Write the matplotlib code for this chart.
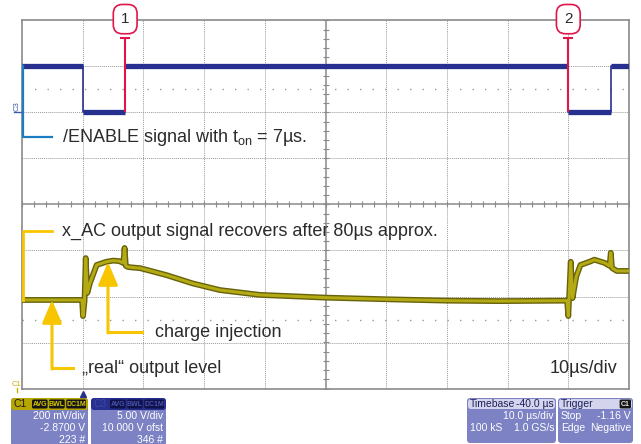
import numpy as np
import matplotlib
matplotlib.use("Agg")
from matplotlib import pyplot as plt, patches

plt.rcParams['font.family'] = ['Liberation Sans', 'DejaVu Sans']

# channel settings (as shown on the scope)
c1_vdiv, c1_ofs = 0.2, -2.87     # x_AC output, V/div and offset
c3_vdiv, c3_ofs = 5.0, 10.0      # /ENABLE, V/div and offset

# /ENABLE signal (C3), time in us, level in V
t_en = [-10, 0, 0, 7, 7, 79.9, 79.9, 87.0, 87.0, 90]
v_en = [5, 5, 0, 0, 5, 5, 0, 0, 5, 5]

# x_AC output signal (C1), time in us, level in V
t_ac = [-10, -0.1, 0.05, 0.3, 0.5, 0.75, 1.2, 2.3, 3.9, 5.0, 6.0, 6.7, 6.9, 7.1,
        7.5, 9.5, 13.8, 18.1, 22.6, 29.2, 40.1, 50.0, 60.0, 68.7, 79.8, 80.0,
        80.4, 80.7, 81.3, 82.0, 83.5, 84.3, 86.0, 86.8, 87.0, 87.2, 88.0, 90]
v_ac = [2.455, 2.455, 2.385, 2.45, 2.637, 2.485, 2.529, 2.607, 2.621, 2.626, 2.624,
        2.616, 2.681, 2.603, 2.598, 2.593, 2.563, 2.527, 2.498, 2.477, 2.465, 2.458,
        2.452, 2.450, 2.452, 2.385, 2.621, 2.463, 2.556, 2.607, 2.621, 2.630, 2.616,
        2.603, 2.660, 2.594, 2.581, 2.581]

cursor_t = [7, 80]
cursor_lbl = ['1', '2']

navy = '#28308f'
red = '#e0154a'
olive_dark = '#67620c'
olive = '#b4aa14'
gold = '#f7c600'
blue = '#1b7ec2'
txt = '#2b2b2b'
lav = '#7c82c4'

fig = plt.figure(figsize=(6.41, 4.44), dpi=100)
ax = fig.add_axes([22 / 641, 1 - 388.5 / 444, 607 / 641, 368 / 444])
ax.set_xlim(-10, 90)
ax.set_ylim(-4, 4)
ax.set_xticks([])
ax.set_yticks([])
for s in ax.spines.values():
    s.set_color('#8a8a8a')
    s.set_linewidth(1.2)

# graticule
for x in np.arange(0, 90, 10):
    if x != 40:
        ax.axvline(x, color='#9a9a9a', lw=0.7, ls=(0, (1, 1)), zorder=0)
for y in np.arange(-3, 4, 1):
    if y != 0:
        ax.axhline(y, color='#9a9a9a', lw=0.7, ls=(0, (1, 1)), zorder=0)
ax.axhline(0, color='#8a8a8a', lw=1.1, zorder=0)
ax.axvline(40, color='#8a8a8a', lw=1.1, zorder=0)
for y in [2.5, -2.5]:
    ax.axhline(y, color='#9a9a9a', lw=1.0, ls=(0, (1, 8)), zorder=0)
mx = np.arange(-10, 90.1, 2)
ax.plot(mx, np.zeros_like(mx), ls='none', marker='|', ms=5, color='#8a8a8a', mew=0.8)
my = np.arange(-4, 4.01, 0.2)
ax.plot(np.full_like(my, 40), my, ls='none', marker='_', ms=5, color='#8a8a8a', mew=0.8)

# C3 trace
en_pos = (np.array(v_en) + c3_ofs) / c3_vdiv
ax.plot(t_en, en_pos, color=navy, lw=1.2, zorder=3)
for i in range(len(t_en) - 1):
    if en_pos[i] == en_pos[i + 1]:
        ax.plot(t_en[i:i + 2], en_pos[i:i + 2], color=navy, lw=3.8,
                solid_capstyle='butt', zorder=3)

# C1 trace
ac_pos = (np.array(v_ac) + c1_ofs) / c1_vdiv
ax.plot(t_ac, ac_pos, color=olive_dark, lw=4.2, zorder=3)
ax.plot(t_ac, ac_pos, color=olive, lw=2.2, zorder=4)

# cursors
ax.vlines(cursor_t, 2.0, 3.61, color=red, lw=1.5, zorder=5)
ax.plot(cursor_t, [3.61, 3.61], ls='none', marker='_', ms=7, mew=1.5, color=red, zorder=5)
for t, l in zip(cursor_t, cursor_lbl):
    ax.text(t, 4.03, l, ha='center', va='center', fontsize=11, color=txt, zorder=10,
            clip_on=False,
            bbox=dict(boxstyle='round,pad=0.5,rounding_size=0.6', fc='white', ec=red, lw=1.2))

# overlay in pixel coordinates for annotations and info boxes
ov = fig.add_axes([0, 0, 1, 1], facecolor='none')
ov.set_xlim(0, 641)
ov.set_ylim(444, 0)
ov.axis('off')

tfs = 13
ov.plot([23, 23, 52], [66, 137, 137], color=blue, lw=1.6)
ov.text(62, 137, '/ENABLE signal with t$_\\mathregular{on}$ = 7µs.', fontsize=tfs,
        color=txt, va='center')
ov.plot([23, 23, 52], [300, 231, 231], color=gold, lw=2)
ov.text(62, 231, 'x_AC output signal recovers after 80µs approx.', fontsize=tfs,
        color=txt, va='center')

arr = dict(arrowstyle='-|>,head_length=1.4,head_width=0.6', lw=2.2, color=gold,
           shrinkA=0, shrinkB=0)
ov.plot([142, 108], [332, 332], color=gold, lw=2.2)
ov.annotate('', xy=(108, 262), xytext=(108, 333), arrowprops=arr)
ov.text(155, 332, 'charge injection', fontsize=tfs, color=txt, va='center')
ov.plot([73, 52], [368, 368], color=gold, lw=2.2)
ov.annotate('', xy=(52, 300), xytext=(52, 369), arrowprops=arr)
ov.text(82, 368, '\u201ereal\u201c output level', fontsize=tfs, color=txt, va='center')
ov.text(617, 368, '10µs/div', fontsize=tfs, color=txt, va='center', ha='right')

# channel markers
ov.text(17, 106, 'C3', rotation=90, fontsize=5.5, color='#3a5bb0', ha='center', va='center')
ov.plot([14, 21], [112, 112], color='#3a5bb0', lw=1)
ov.text(17, 384, 'C1', fontsize=5.5, color='#c8b000', ha='center', va='center')
ov.plot([17, 17], [388, 392], color='#c8b000', lw=1)
ov.plot([83], [394], marker='^', ms=5, color=navy)


def box(x0, x1, y0, y1, fc):
    ov.add_patch(patches.FancyBboxPatch((x0, y0), x1 - x0, y1 - y0,
                                        boxstyle='round,pad=0,rounding_size=3',
                                        fc=fc, ec='none', clip_on=False))


def badges(x_right, y, labels, fc, tc):
    x = x_right
    for lab in reversed(labels):
        w = 4.2 * len(lab) + 3
        ov.add_patch(patches.FancyBboxPatch((x - w, y - 4.5), w, 9,
                                            boxstyle='round,pad=0,rounding_size=1.5',
                                            fc=fc, ec='none'))
        ov.text(x - w / 2, y, lab, fontsize=5, color=tc, ha='center', va='center',
                fontweight='bold')
        x -= w + 1.5


fs = 7.5
# C1 box
box(11, 88, 398, 446, lav)
box(11, 88, 398, 410, '#b8a600')
ov.text(14, 404, 'C1', fontsize=fs, color='#1a1a1a', va='center')
badges(86, 404, ['AVG', 'BWL', 'DC1M'], '#151515', '#d8c800')
for yy, s in zip([416, 428, 440], ['200 mV/div', '-2.8700 V', '223 #']):
    ov.text(85, yy, s, fontsize=fs, color='white', ha='right', va='center')

# C3 box
box(91, 166, 398, 446, lav)
box(91, 166, 398, 410, navy)
ov.text(94, 404, 'C3', fontsize=fs, color='#3e47a0', va='center')
badges(164, 404, ['AVG', 'BWL', 'DC1M'], '#10124a', '#4a52b0')
for yy, s in zip([416, 428, 440], ['5.00 V/div', '10.000 V ofst', '346 #']):
    ov.text(163, yy, s, fontsize=fs, color='white', ha='right', va='center')

# Timebase box
box(467, 556, 398, 443, lav)
box(468, 555, 399, 409, '#d4d5ec')
ov.text(470, 404, 'Timebase', fontsize=fs, color='#1c1f5a', va='center')
ov.text(554, 404, '-40.0 µs', fontsize=fs, color='#1c1f5a', va='center', ha='right')
ov.text(554, 416, '10.0 µs/div', fontsize=fs, color='white', va='center', ha='right')
ov.text(470, 428, '100 kS', fontsize=fs, color='white', va='center')
ov.text(554, 428, '1.0 GS/s', fontsize=fs, color='white', va='center', ha='right')

# Trigger box
box(558, 633, 398, 443, lav)
box(559, 632, 399, 409, '#d4d5ec')
ov.text(561, 404, 'Trigger', fontsize=fs, color='#1c1f5a', va='center')
badges(631, 404, ['C1'], '#151515', '#e8e8e8')
ov.text(561, 416, 'Stop', fontsize=fs, color='white', va='center')
ov.text(631, 416, '-1.16 V', fontsize=fs, color='white', va='center', ha='right')
ov.text(561, 428, 'Edge', fontsize=fs, color='white', va='center')
ov.text(631, 428, 'Negative', fontsize=fs, color='white', va='center', ha='right')

fig.savefig('out.png', dpi=100)
